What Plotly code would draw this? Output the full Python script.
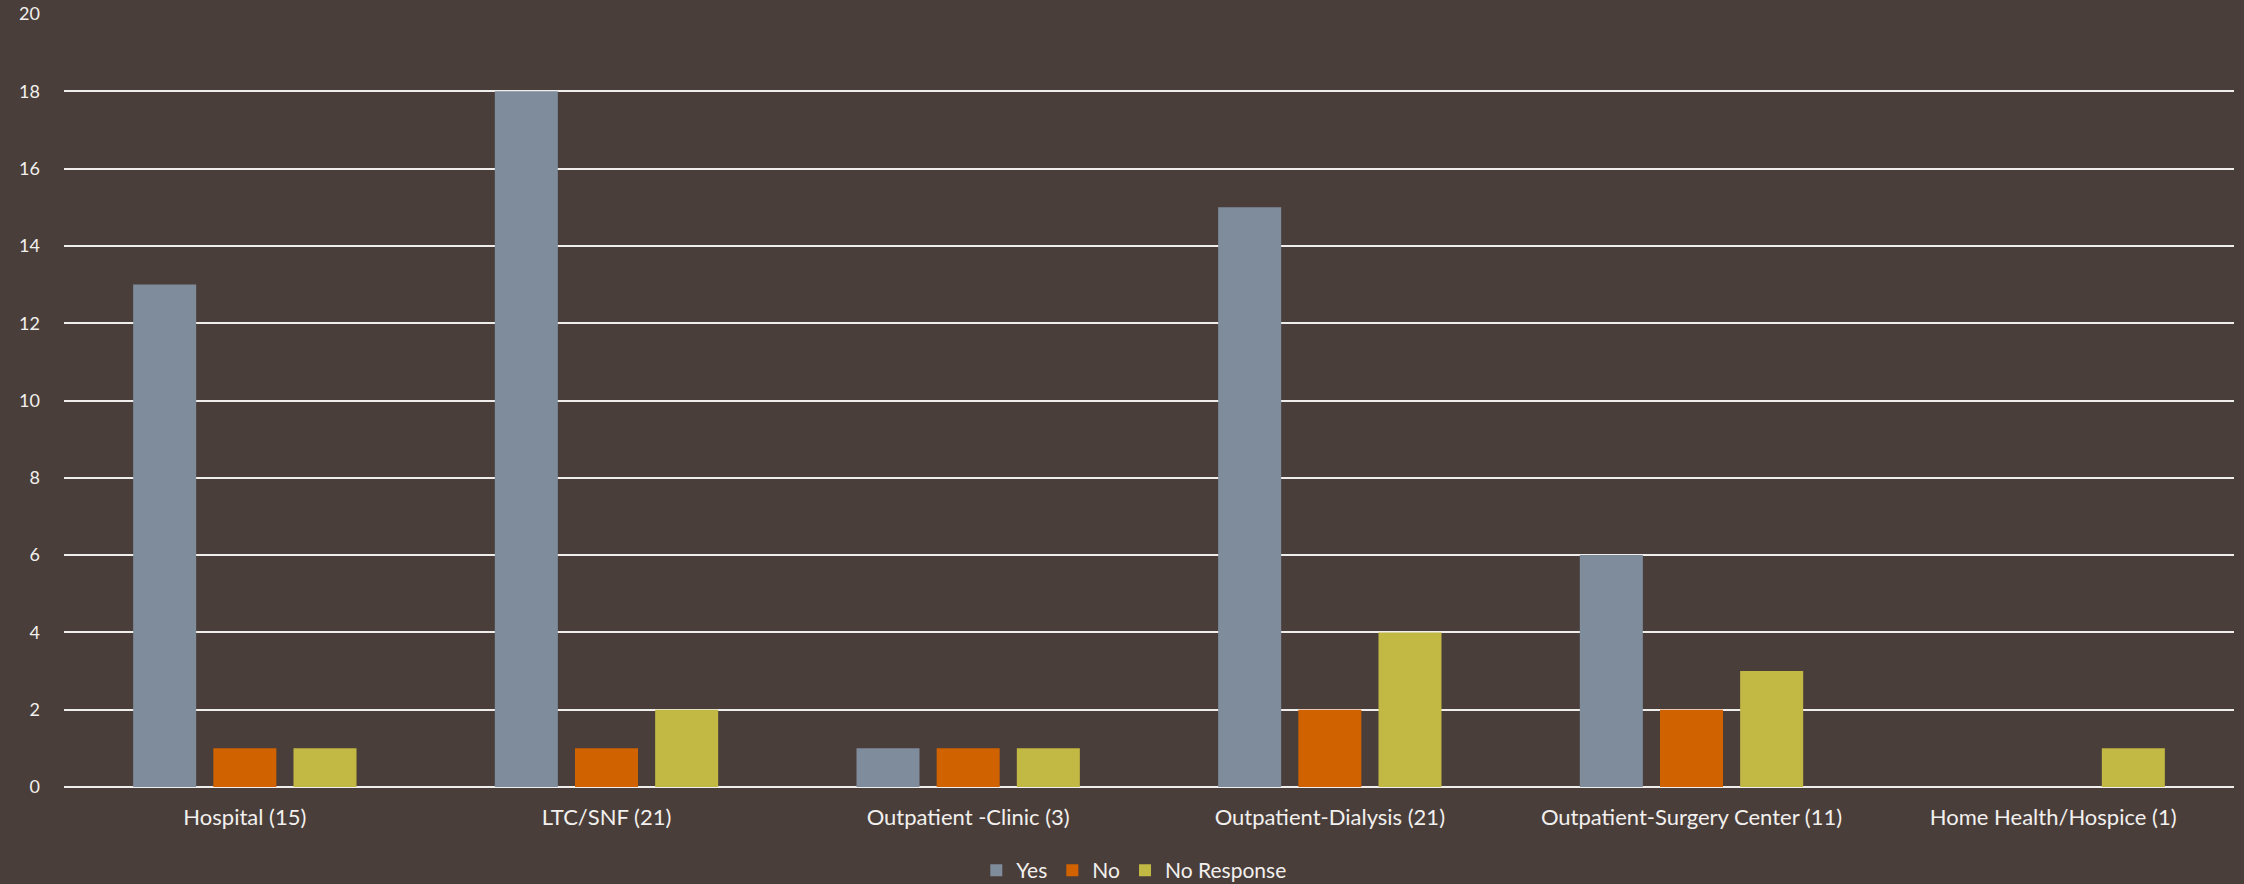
import plotly.graph_objects as go

categories = ["Hospital (15)", "LTC/SNF (21)", "Outpatient -Clinic (3)",
              "Outpatient-Dialysis (21)", "Outpatient-Surgery Center (11)",
              "Home Health/Hospice (1)"]
yes_vals = [13, 18, 1, 15, 6, 0]
no_vals = [1, 1, 1, 2, 2, 0]
nr_vals = [1, 2, 1, 4, 3, 1]
y_ticks = [0, 2, 4, 6, 8, 10, 12, 14, 16, 18, 20]

BG = "#4A3E3A"
FONT = "Lato, 'Open Sans', sans-serif"
TXT = "#F2F0EE"

fig = go.Figure()
for name, vals, col in [("Yes", yes_vals, "#7F8C9C"),
                        ("No", no_vals, "#D16200"),
                        ("No Response", nr_vals, "#C2B945")]:
    fig.add_trace(go.Bar(name=name, x=categories, y=vals, marker_color=col,
                         marker_line_width=0))

fig.update_layout(
    width=2244, height=884,
    paper_bgcolor=BG, plot_bgcolor=BG,
    margin=dict(l=64, r=10, t=14, b=97, autoexpand=False),
    barmode="group", bargap=0.335, bargroupgap=0.214,
    font=dict(family=FONT, color=TXT, size=18),
    showlegend=True,
    legend=dict(orientation="h", x=0.493, xanchor="center", y=-0.108,
                yanchor="middle", font=dict(size=21, color=TXT),
                itemwidth=30, tracegroupgap=0),
)
fig.update_xaxes(showgrid=False, showline=False, ticks="", automargin=False,
                 tickfont=dict(size=22, color=TXT), ticklabelstandoff=15)
fig.update_yaxes(range=[0, 20], tickvals=y_ticks, showgrid=True,
                 gridcolor="#F0EEEC", gridwidth=2, zeroline=True,
                 zerolinecolor="#F0EEEC", zerolinewidth=2, showline=False,
                 ticks="", tickfont=dict(size=18, color=TXT),
                 ticklabelstandoff=23, automargin=False)

fig.write_html(
    "out.html",
    config={"displayModeBar": False},
    post_script="document.body.style.margin='0';"
                "document.body.style.background='#4A3E3A';"
                "document.body.style.overflow='hidden';",
)
